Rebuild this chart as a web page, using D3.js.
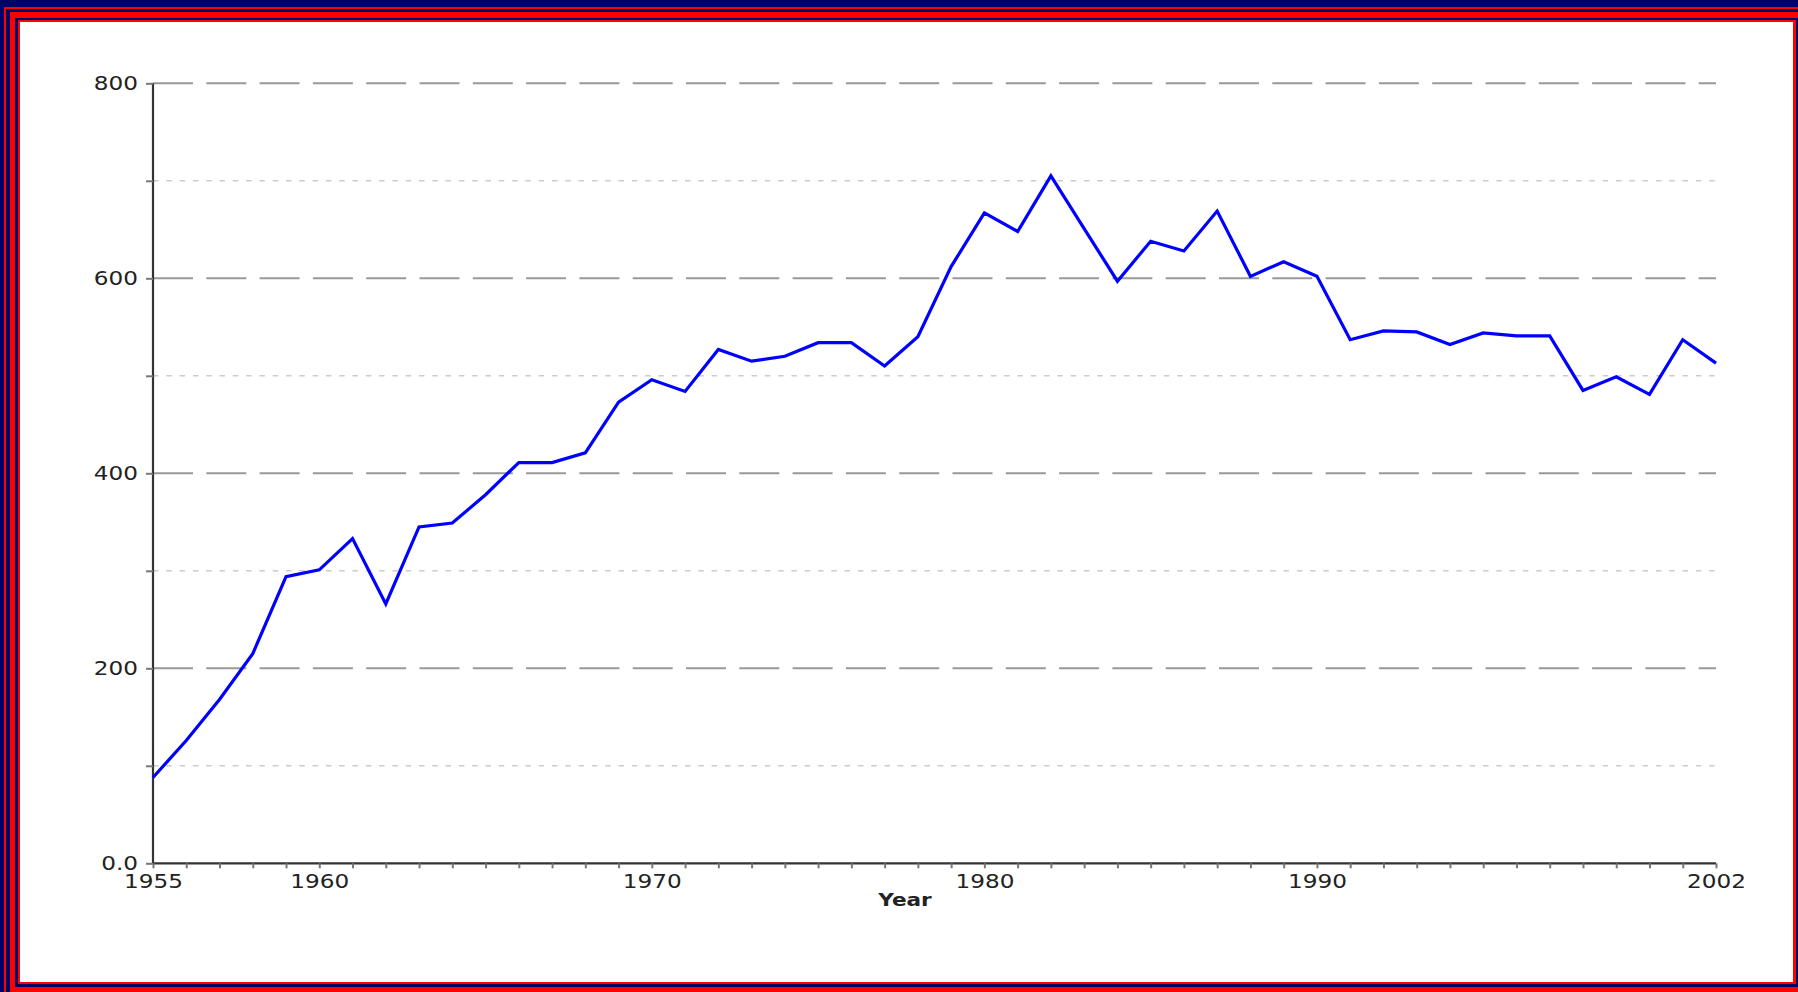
<!DOCTYPE html>
<html>
<head>
<meta charset="utf-8">
<script src="https://cdn.jsdelivr.net/npm/d3@7"></script>
<style>
  html, body { margin: 0; padding: 0; background: #000066; }
  svg { display: block; }
</style>
</head>
<body>
<div id="chart"></div>
<script>
const years = [1955, 1956, 1957, 1958, 1959, 1960, 1961, 1962, 1963, 1964, 1965, 1966,
  1967, 1968, 1969, 1970, 1971, 1972, 1973, 1974, 1975, 1976, 1977, 1978,
  1979, 1980, 1981, 1982, 1983, 1984, 1985, 1986, 1987, 1988, 1989, 1990,
  1991, 1992, 1993, 1994, 1995, 1996, 1997, 1998, 1999, 2000, 2001, 2002];
const counts = [88, 126, 168, 215, 294, 301, 333, 266, 345, 349, 378, 411,
  411, 421, 473, 496, 484, 527, 515, 520, 534, 534, 510, 540,
  612, 667, 648, 705, 651, 597, 638, 628, 669, 602, 617, 602,
  537, 546, 545, 532, 544, 541, 541, 485, 499, 481, 537, 513];
const yTicks = [0, 100, 200, 300, 400, 500, 600, 700, 800];
const yTickLabels = { 0: "0.0", 200: "200", 400: "400", 600: "600", 800: "800" };
const xTickLabels = [1955, 1960, 1970, 1980, 1990, 2002];
const xTitle = "Year";

const W = 1798, H = 992;
const plot = { left: 153, right: 1716, top: 83.3, bottom: 863.3 };
const sx = 1.22; // text is a little wider than the font

const svg = d3.select("#chart").append("svg")
  .attr("width", W).attr("height", H);

// frame
const frame = [
  [0, 0, W, H, "#000066"],
  [4, 7, 3000, 3000, "#ff0000"],
  [6, 9, 3000, 3000, "#000066"],
  [10, 12, 3000, 3000, "#ff0000"],
  [15, 18, W - 15, 987 - 18, "#000066"],
  [18, 20, 1796 - 18, 984 - 20, "#ff0000"],
  [20, 22, 1793 - 20, 982 - 22, "#ffffff"]
];
svg.selectAll(".frame").data(frame).enter().append("rect")
  .attr("x", d => d[0]).attr("y", d => d[1])
  .attr("width", d => d[2]).attr("height", d => d[3])
  .attr("fill", d => d[4]);

const x = d3.scaleLinear().domain([1955, 2002]).range([plot.left, plot.right]);
const y = d3.scaleLinear().domain([0, 800]).range([plot.bottom, plot.top]);

// grid lines
svg.selectAll(".grid").data(yTicks.filter(v => v > 0)).enter().append("line")
  .attr("x1", plot.left).attr("x2", plot.right)
  .attr("y1", d => y(d)).attr("y2", d => y(d))
  .attr("stroke", d => d % 200 === 0 ? "#999999" : "#cccccc")
  .attr("stroke-width", d => d % 200 === 0 ? 2 : 1.5)
  .attr("stroke-dasharray", d => d % 200 === 0 ? "40,13.3" : "5.5,7.8");

// y axis
const yAxis = svg.append("g")
  .attr("transform", `translate(${plot.left},0)`)
  .call(d3.axisLeft(y).tickValues(yTicks).tickSize(7)
    .tickFormat(d => yTickLabels[d] || ""));

// x axis
const xAxis = svg.append("g")
  .attr("transform", `translate(0,${plot.bottom})`)
  .call(d3.axisBottom(x).tickValues(years).tickSize(5)
    .tickFormat(d => xTickLabels.includes(d) ? String(d) : ""));

[yAxis, xAxis].forEach(g => {
  g.select(".domain").attr("stroke", "#333333").attr("stroke-width", 2.2);
  g.selectAll(".tick line").attr("stroke", "#777777").attr("stroke-width", 2);
  g.selectAll("text")
    .attr("fill", "#222222")
    .style("font-family", "'DejaVu Sans', Verdana, sans-serif")
    .style("font-size", "19px");
});
yAxis.select(".domain").attr("d", `M0,${plot.top}V${plot.bottom}`);
xAxis.select(".domain").attr("d", `M${plot.left},0H${plot.right}`);

yAxis.selectAll("text")
  .attr("x", -15 / sx)
  .attr("dy", "0.35em")
  .attr("transform", `scale(${sx},1)`);
xAxis.selectAll("text")
  .attr("y", 0)
  .attr("dy", 25)
  .attr("transform", `scale(${sx},1)`);

// axis title
svg.append("text")
  .attr("transform", `translate(905,906) scale(1.2,1)`)
  .attr("text-anchor", "middle")
  .attr("fill", "#222222")
  .style("font-family", "'DejaVu Sans', Verdana, sans-serif")
  .style("font-size", "18px")
  .style("font-weight", "bold")
  .text(xTitle);

// series line
const line = d3.line()
  .x((d, i) => x(years[i]))
  .y(d => y(d));

svg.append("path")
  .datum(counts)
  .attr("d", line)
  .attr("fill", "none")
  .attr("stroke", "#0000ff")
  .attr("stroke-width", 3.2)
  .attr("stroke-linejoin", "miter");
</script>
</body>
</html>
